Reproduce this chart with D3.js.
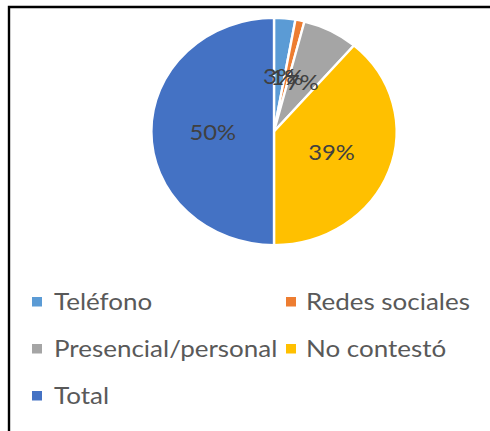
<!DOCTYPE html>
<html>
<head>
<meta charset="utf-8">
<script src="https://cdn.jsdelivr.net/npm/d3@7"></script>
<style>
  html, body { margin: 0; padding: 0; background: #fff; }
  svg { display: block; }
  text { font-family: Lato, "Liberation Sans", Arial, sans-serif; }
</style>
</head>
<body>
<svg id="chart" width="490" height="431"></svg>
<script>
const categories = ["Teléfono", "Redes sociales", "Presencial/personal", "No contestó", "Total"];
const values = [2.8, 1.2, 7.3, 38.7, 50];
const colors = ["#5B9BD5", "#ED7D31", "#A5A5A5", "#FFC000", "#4472C4"];

const svg = d3.select("#chart");
const W = 490, H = 431;
const stretch = 1.08;
const legendStretch = 1.13;

// frame
svg.append("path")
  .attr("d", `M9,${H + 2} L9,7 L${W + 2},7`)
  .attr("fill", "none")
  .attr("stroke", "#000")
  .attr("stroke-width", 2.4);

const cx = 274, cy = 131.5, r = 113.5;
const total = d3.sum(values);

const pie = d3.pie().sort(null).value(d => d)(values);
const arc = d3.arc().innerRadius(0).outerRadius(r);
const labelArc = d3.arc().innerRadius(0).outerRadius(r);

const g = svg.append("g").attr("transform", `translate(${cx},${cy}) scale(${stretch},1)`);

g.selectAll("path.slice")
  .data(pie)
  .join("path")
  .attr("class", "slice")
  .attr("d", arc)
  .attr("fill", (d, i) => colors[i])
  .attr("stroke", "#fff")
  .attr("stroke-width", 2.2)
  .attr("stroke-linejoin", "round");

g.selectAll("text.lbl")
  .data(pie)
  .join("text")
  .attr("class", "lbl")
  .attr("x", d => labelArc.centroid(d)[0])
  .attr("y", d => labelArc.centroid(d)[1])
  .attr("text-anchor", "middle")
  .attr("dominant-baseline", "central")
  .attr("font-size", 22)
  .attr("fill", "#404040")
  .text(d => Math.round(d.value / total * 100) + "%");

// legend
const colX = [32, 286];
const rowY = [302, 349, 396];
const legend = svg.append("g");
categories.forEach((c, i) => {
  const col = i % 2, row = Math.floor(i / 2);
  const item = legend.append("g")
    .attr("transform", `translate(${colX[col]},${rowY[row]})`);
  item.append("rect")
    .attr("x", 0).attr("y", -5)
    .attr("width", 10).attr("height", 9.5)
    .attr("fill", colors[i]);
  item.append("text")
    .attr("transform", `translate(${col === 0 ? 22 : 20},0) scale(${legendStretch},1)`)
    .attr("y", 7.5)
    .attr("font-size", 23)
    .attr("fill", "#595959")
    .text(c);
});
</script>
</body>
</html>
